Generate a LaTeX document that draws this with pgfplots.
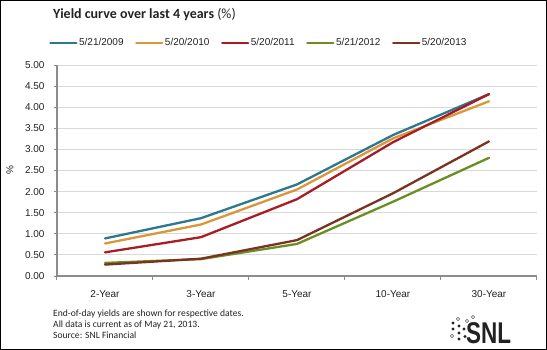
\documentclass[border=0pt]{standalone}
\usepackage{pgfplots}
\pgfplotsset{compat=1.18}
\usepackage{fontspec}
\setmainfont{Liberation Sans}
\newfontfamily\notefont{Carlito}
\definecolor{cA}{RGB}{44,120,140}
\definecolor{cB}{RGB}{217,150,58}
\definecolor{cC}{RGB}{166,30,36}
\definecolor{cD}{RGB}{107,142,35}
\definecolor{cE}{RGB}{122,50,34}
\definecolor{gridc}{RGB}{217,217,217}
\definecolor{axc}{RGB}{140,140,140}
\definecolor{txt}{RGB}{34,34,34}
\begin{document}
\begin{tikzpicture}[x=1pt,y=1pt]
\useasboundingbox (0,0) rectangle (547,350);
\draw[black, line width=1pt] (0.5,0.5) rectangle (546.5,349.5);
\node[anchor=base west, inner sep=0pt, text=txt, font=\notefont\fontsize{14}{16}\selectfont] at (53,331.5) {\textbf{Yield curve over last 4 years} (\%)};
\begin{axis}[
  at={(57pt,74pt)}, anchor=south west,
  scale only axis, width=480pt, height=211pt,
  xmin=-0.5, xmax=4.5, ymin=0, ymax=5,
  xtick={0,1,2,3,4},
  xticklabels={2-Year,3-Year,5-Year,10-Year,30-Year},
  minor xtick={-0.5,0.5,1.5,2.5,3.5,4.5},
  ytick={0,0.5,...,5},
  axis x line*=bottom, axis y line*=left,
  axis line style={axc, line width=1.5pt},
  ymajorgrids, grid style={gridc, line width=0.9pt},
  major x tick style={draw=none},
  minor x tick style={axc, line width=1pt},
  minor tick length=4pt,
  major y tick style={axc, line width=0.8pt},
  major tick length=3pt,
  tick align=outside,
  tick label style={font=\fontsize{10}{12}\selectfont, text=txt},
  yticklabel style={/pgf/number format/fixed, /pgf/number format/fixed zerofill, /pgf/number format/precision=2, xshift=-6pt},
  xticklabel style={yshift=-8pt},
  /pgf/number format/assume math mode=true,
  ylabel={\%}, ylabel style={at={(axis description cs:-0.098,0.5)}, anchor=center, font=\fontsize{10}{12}\selectfont, text=txt},
  legend columns=5,
  legend style={draw=none, fill=none, at={(axis description cs:-0.0229,1.104)}, anchor=west,
    font=\fontsize{10}{12}\selectfont, text=txt,
    /tikz/every even column/.append style={column sep=10pt},
    nodes={inner xsep=1.5pt, inner ysep=0pt}},
  legend image code/.code={\draw[#1, line width=2.4pt] (0pt,0pt) -- (26pt,0pt);},
  every axis plot/.append style={line width=2.3pt, line join=round, line cap=round},
]
\addplot[cA] coordinates {(0,0.89) (1,1.37) (2,2.17) (3,3.34) (4,4.31)};
\addlegendentry{5/21/2009}
\addplot[cB] coordinates {(0,0.77) (1,1.22) (2,2.05) (3,3.26) (4,4.14)};
\addlegendentry{5/20/2010}
\addplot[cC] coordinates {(0,0.56) (1,0.92) (2,1.82) (3,3.17) (4,4.31)};
\addlegendentry{5/20/2011}
\addplot[cD] coordinates {(0,0.31) (1,0.40) (2,0.76) (3,1.76) (4,2.80)};
\addlegendentry{5/21/2012}
\addplot[cE] coordinates {(0,0.27) (1,0.41) (2,0.85) (3,1.96) (4,3.19)};
\addlegendentry{5/20/2013}
\end{axis}
\begin{scope}[font=\notefont\fontsize{9.6}{11}\selectfont, text=txt]
\node[anchor=base west, inner sep=0pt] at (53,33) {End-of-day yields are shown for respective dates.};
\node[anchor=base west, inner sep=0pt] at (53,22) {All data is current as of May 21, 2013.};
\node[anchor=base west, inner sep=0pt] at (53,11) {Source: SNL Financial};
\end{scope}
\node[anchor=base west, inner sep=0pt, xscale=0.75, font=\bfseries\fontsize{30}{30}\selectfont, text=txt] at (466,6) {SNL};
\fill[txt] (453,27) circle (1.7) (459,24) circle (1.7) (453,21) circle (1.7) (459,17) circle (1.7) (464,21) circle (1.7) (465,13.5) circle (1.7) (459,11) circle (1.7);
\draw[txt, line width=0.4pt] (467,29) circle (1.6) (473,33) circle (1.6) (458,31) circle (1.6) (452,14) circle (1.6);
\end{tikzpicture}
\end{document}
